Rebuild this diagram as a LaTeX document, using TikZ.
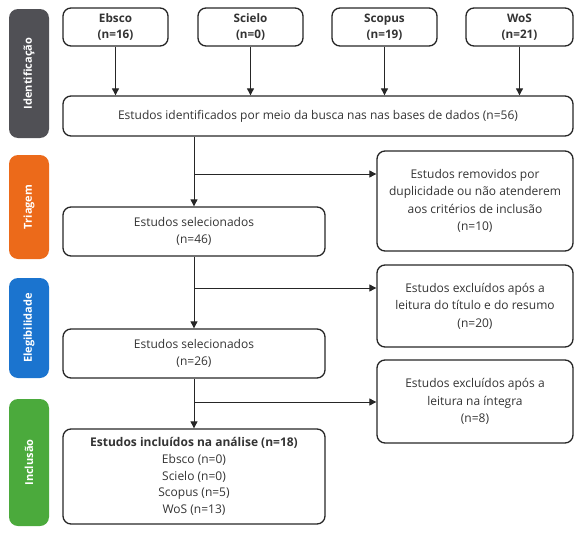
\documentclass[tikz,border=0pt]{standalone}
\usepackage{fontspec}
\setmainfont{Open Sans}
\usetikzlibrary{arrows.meta}
\definecolor{labgray}{HTML}{505055}
\definecolor{laborange}{HTML}{EC6A1A}
\definecolor{labblue}{HTML}{1B74CF}
\definecolor{labgreen}{HTML}{4BAA3C}
\tikzset{
  box/.style={draw=black!85, line width=1.3pt, rounded corners=8pt, align=center,
    inner sep=2pt, font=\fontsize{12}{17.5}\selectfont, text=black!80},
  srcbox/.style={box, font=\fontsize{11.7}{16}\selectfont\bfseries},
  lab/.style={fill=#1, rounded corners=9pt, text=white, rotate=90,
    font=\fontsize{11}{13}\selectfont\bfseries, inner sep=0pt},
  arr/.style={line width=0.9pt, draw=black!85, -{Triangle[length=7pt,width=7pt]}},
  ln/.style={line width=0.9pt, draw=black!85}
}
\begin{document}
\begin{tikzpicture}[x=1pt,y=-1pt]
\useasboundingbox (0,0) rectangle (579,533);
% side labels
\node[lab=labgray, minimum width=129pt, minimum height=40pt] (lident) at (29,73.5) {Identificação};
\node[lab=laborange, minimum width=104pt, minimum height=40pt] (ltri) at (29,207) {Triagem};
\node[lab=labblue, minimum width=100pt, minimum height=40pt] (leleg) at (29,328) {Elegibilidade};
\node[lab=labgreen, minimum width=127pt, minimum height=40pt] (lincl) at (29,462.5) {Inclusão};
% sources
\node[srcbox, minimum width=105pt, minimum height=38pt] (ebsco) at (115.5,27) {Ebsco\\(n=16)};
\node[srcbox, minimum width=105pt, minimum height=38pt] (scielo) at (250.5,27) {Scielo\\(n=0)};
\node[srcbox, minimum width=105pt, minimum height=38pt] (scopus) at (384.5,27) {Scopus\\(n=19)};
\node[srcbox, minimum width=107pt, minimum height=38pt] (wos) at (519.5,27) {WoS\\(n=21)};
% main boxes
\node[box, minimum width=510pt, minimum height=40pt] (ident) at (318,116) {Estudos identificados por meio da busca nas nas bases de dados (n=56)};
\node[box, minimum width=262pt, minimum height=49pt] (sel1) at (194,231.5) {Estudos selecionados\\(n=46)};
\node[box, minimum width=262pt, minimum height=49pt] (sel2) at (194,353.5) {Estudos selecionados\\(n=26)};
\node[box, minimum width=262pt, minimum height=95pt, font=\fontsize{12}{16.8}\selectfont] (incl) at (194,476.5) {\textbf{Estudos incluídos na análise (n=18)}\\Ebsco (n=0)\\Scielo (n=0)\\Scopus (n=5)\\WoS (n=13)};
\node[box, minimum width=196pt, minimum height=100pt] (rem) at (475,201) {Estudos removidos por\\duplicidade ou não atenderem\\aos critérios de inclusão\\(n=10)};
\node[box, minimum width=196pt, minimum height=82pt] (exc1) at (475,306) {Estudos excluídos após a\\leitura do título e do resumo\\(n=20)};
\node[box, minimum width=196pt, minimum height=83pt] (exc2) at (475,401.5) {Estudos excluídos após a\\leitura na íntegra\\(n=8)};
% connectors
\foreach \s in {ebsco,scielo,scopus,wos}
  \draw[arr] (\s.south) -- (\s.south |- ident.north);
\coordinate (b1) at (194,174);
\coordinate (b2) at (194,288);
\coordinate (b3) at (194,402);
\draw[arr] (sel1.north |- ident.south) -- (sel1.north);
\draw[arr] (b1) -- (b1 -| rem.west);
\draw[arr] (sel1.south) -- (sel2.north);
\draw[arr] (b2) -- (b2 -| exc1.west);
\draw[arr] (sel2.south) -- (incl.north);
\draw[arr] (b3) -- (b3 -| exc2.west);
\end{tikzpicture}
\end{document}
